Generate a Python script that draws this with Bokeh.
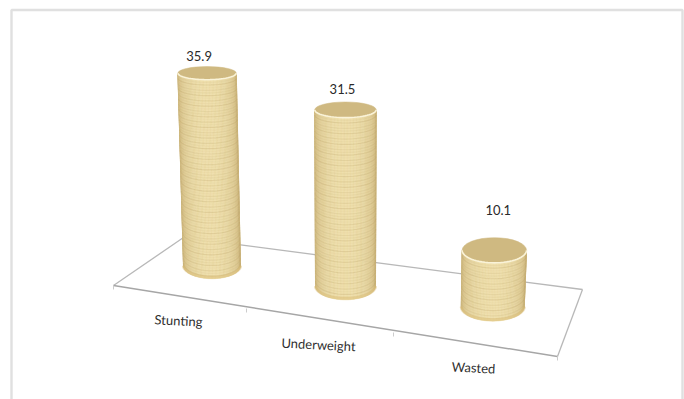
import math
from bokeh.core.properties import value
from bokeh.embed import file_html
from bokeh.models import ColumnDataSource, Range1d
from bokeh.plotting import figure
from bokeh.resources import INLINE

categories = ["Stunting", "Underweight", "Wasted"]
prevalence = [35.9, 31.5, 10.1]

# Oblique floor of the 3D column chart, in page pixels
FRONT_LEFT, FRONT_RIGHT = (113, 285), (557, 356)
BACK_LEFT, BACK_RIGHT = (183, 237), (582, 289)
FRONT_STOPS = [(113, 285), (246, 308), (393, 332), (557, 356)]
BACK_STOPS = [(183, 237), (316, 254.5), (449, 271.5), (582, 289)]
PIXELS_PER_UNIT = 5.5
SLOT_FORESHORTEN = [0.975, 1.017, 1.015]
SLOT_NUDGE = [-3, -6, -3]
LABEL_AT = [(178, 320), (318, 344), (473, 367)]
VALUE_GAP = [17, 21, 40]
VALUE_SHIFT = [-8, -3, 4]
RING_ALPHA = [0.16, 0.06, 0.2, 0.04, 0.12, 0.08, 0.18, 0.03]

p = figure(width=684, height=399, output_backend="svg", toolbar_location=None,
           x_range=Range1d(0, 684), y_range=Range1d(399, 0),
           min_border=0, outline_line_color=None, background_fill_color="white",
           border_fill_color="white")
p.axis.visible = False
p.grid.visible = False

# Outer chart frame: top, left and right sides only
p.multi_line([[11, 11, 682, 682]], [[399, 9.5, 9.5, 399]],
             line_color="#e0e0e0", line_width=2.4)

# Floor outline and its category ticks
p.multi_line([[FRONT_LEFT[0], BACK_LEFT[0]], [BACK_LEFT[0], BACK_RIGHT[0]],
              [BACK_RIGHT[0], FRONT_RIGHT[0]]],
             [[FRONT_LEFT[1], BACK_LEFT[1]], [BACK_LEFT[1], BACK_RIGHT[1]],
              [BACK_RIGHT[1], FRONT_RIGHT[1]]],
             line_color="#b8b8b8", line_width=1.3)
p.line([FRONT_LEFT[0], FRONT_RIGHT[0]], [FRONT_LEFT[1], FRONT_RIGHT[1]],
       line_color="#a6a6a6", line_width=1.5)
p.multi_line([[x, x] for x, _ in FRONT_STOPS], [[y, y + 4] for _, y in FRONT_STOPS],
             line_color="#cccccc", line_width=1)


def minor_radius(y):
    # Ellipses open up as the column section sits lower on the page
    return 4.1 + 0.034 * y


def mix(c1, c2, t):
    return "#%02x%02x%02x" % tuple(round(a + (b - a) * t) for a, b in zip(c1, c2))


EDGE = (203, 180, 122)
MIDDLE = (238, 222, 170)

for i, v in enumerate(prevalence):
    # Column foot: centre of the floor cell for this category
    fx = sum(s[i][0] + s[i + 1][0] for s in (FRONT_STOPS, BACK_STOPS)) / 4 + SLOT_NUDGE[i]
    fy = sum(s[i][1] + s[i + 1][1] for s in (FRONT_STOPS, BACK_STOPS)) / 4 - 6
    h = v * PIXELS_PER_UNIT * SLOT_FORESHORTEN[i]
    tx = fx + h * (fx - 346) * 0.00019
    ty = fy - h
    wb = 28.5 + 1.5 * i
    wt = wb + 0.7
    bb, bt = minor_radius(fy), minor_radius(ty)

    # Curved side, shaded strip by strip across the width
    n = 64
    xs, ys, colors = [], [], []
    for k in range(n):
        a0 = math.pi * k / n
        a1 = math.pi * (k + 1) / n
        top = [(tx - wt * math.cos(a), ty + bt * math.sin(a)) for a in (a0, a1)]
        bot = [(fx - wb * math.cos(a), fy + bb * math.sin(a)) for a in (a1, a0)]
        poly = top + bot
        xs.append([q[0] for q in poly])
        ys.append([q[1] for q in poly])
        am = (a0 + a1) / 2
        colors.append(mix(EDGE, MIDDLE, math.sin(am) ** 0.9))
    p.patches(xs, ys, fill_color=colors, line_color=colors, line_width=0.6)

    # Woven texture: uneven rings around the column
    ring_x, ring_y, ring_alpha = [], [], []
    steps = int(h // 2.6)
    for r in range(1, steps + 1):
        f = r / (steps + 1)
        cx = tx + (fx - tx) * f
        cy = ty + (fy - ty) * f
        w = wt + (wb - wt) * f
        b = bt + (bb - bt) * f
        angles = [math.pi * q / 24 for q in range(25)]
        ring_x.append([cx - w * math.cos(a) for a in angles])
        ring_y.append([cy + b * math.sin(a) for a in angles])
        ring_alpha.append(RING_ALPHA[r % len(RING_ALPHA)])
    p.multi_line(ring_x, ring_y, line_color="#a88c50", line_alpha=ring_alpha, line_width=1.2)

    # Warmer shading along the foot of the column
    angles = [math.pi * q / 32 for q in range(33)]
    p.line([fx - wb * math.cos(a) for a in angles],
           [fy + (bb - 1.5) * math.sin(a) for a in angles],
           line_color="#d8b86e", line_alpha=0.45, line_width=3)

    # Column cap and its pale rim along the near edge
    p.ellipse(tx, ty, width=2 * wt, height=2 * bt, fill_color="#cfb981", line_color="#cfb981",
              line_width=0.5)
    p.line([tx - wt * math.cos(a) for a in angles], [ty + bt * math.sin(a) for a in angles],
           line_color="#faf3d8", line_width=1.6)

    # Value above the cap
    p.text([tx + VALUE_SHIFT[i]], [ty - VALUE_GAP[i]], text=[str(v)],
           text_font=value("Lato"), text_font_size="13px", text_color="#2a2a2a",
           text_align="center", text_baseline="middle")

src = ColumnDataSource(dict(x=[a for a, _ in LABEL_AT], y=[b for _, b in LABEL_AT], t=categories))
p.text("x", "y", text="t", source=src, angle=-0.05,
       text_font=value("Lato"), text_font_size="13px", text_color="#2f2f2f",
       text_align="center", text_baseline="middle")

open("out.html", "w").write(file_html(p, INLINE))
